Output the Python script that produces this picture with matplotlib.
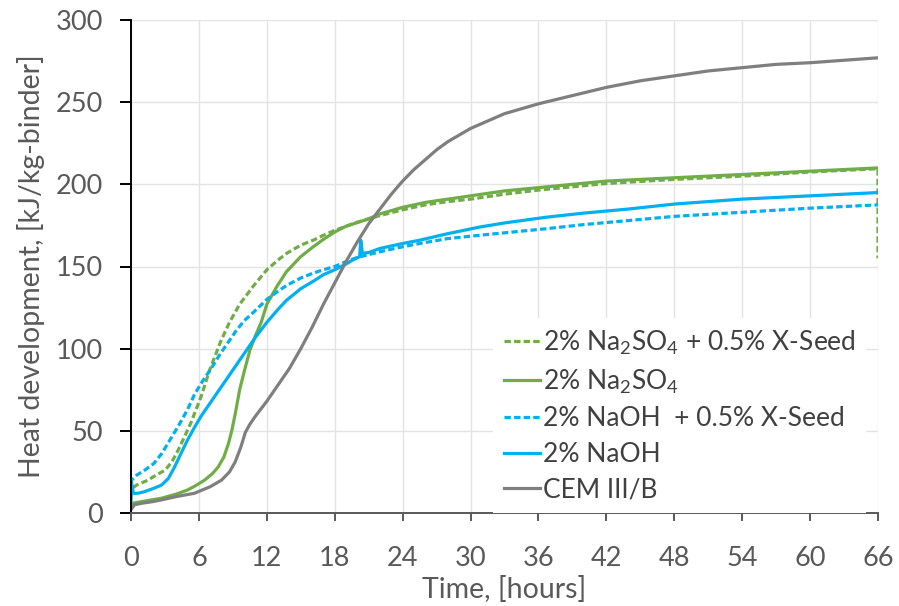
import matplotlib
matplotlib.use("Agg")
import matplotlib.pyplot as plt

plt.rcParams["font.family"] = ["Lato", "DejaVu Sans"]
plt.rcParams["mathtext.fontset"] = "custom"
plt.rcParams["mathtext.rm"] = "Lato"

# heat development curves, time in hours, heat in kJ/kg binder
t_cem = [0, 0.3, 1, 2, 2.7, 4, 5.6, 7, 8, 8.7, 9.2, 9.7, 10.1, 10.5, 11, 12, 13, 14, 15, 16,
         17, 18, 19, 20, 21, 22, 23, 24, 25, 26, 27, 28, 30, 33, 36, 39, 42, 45, 48, 51, 54,
         57, 60, 63, 66]
q_cem = [2, 5, 6, 7, 8, 10, 12, 16, 20, 25, 31, 40, 49, 54, 59, 68, 78, 88, 100, 113, 127, 140,
         153, 165, 176, 185, 194, 202, 209, 215, 221, 226, 234, 243, 249, 254, 259, 263, 266,
         269, 271, 273, 274, 275.5, 277]

t_na2so4 = [0, 0.2, 1, 2.7, 4, 5, 5.8, 6.5, 7.2, 7.7, 8.2, 8.6, 8.9, 9.2, 9.6, 10, 10.5, 11,
            11.5, 12, 12.9, 13.75, 15, 16.1, 17, 18, 19, 20.8, 22, 24, 26, 28, 30, 33, 36, 42,
            48, 54, 60, 66]
q_na2so4 = [3, 6, 7, 9, 11.5, 14, 17, 20, 24, 28, 34, 42, 50, 60, 75, 86, 99, 108, 116, 127,
            138, 147, 156, 162, 166.5, 171, 174.5, 178.5, 182, 186, 189, 191, 193, 196, 198,
            202, 204, 206, 208, 210]

t_na2so4_xs = [0, 0.1, 0.5, 1.5, 2.2, 3, 3.6, 4.15, 4.7, 5.3, 6.2, 6.95, 7.9, 8.7, 9.6, 10.8,
               12, 13, 13.75, 15, 16.1, 17, 18, 20, 22, 24, 26, 28, 30, 33, 36, 42, 48, 54, 60,
               66, 66]
q_na2so4_xs = [10, 15, 17, 20, 23, 26, 31, 38, 46, 55, 71, 87, 104, 116, 127, 138, 148, 154,
               158, 163, 166, 169, 172, 177, 181, 184.5, 187.5, 189.5, 191, 194, 196.5, 200.5,
               203, 205, 207.5, 209.5, 155]

t_naoh_xs = [0, 0.05, 0.5, 1.2, 2, 2.7, 3.4, 4.15, 5, 5.6, 6.3, 7, 7.9, 8.6, 9.3, 10, 10.8, 12,
             13, 13.75, 15, 16.1, 17, 18, 19, 20, 22, 24, 25.5, 28, 30.8, 33, 36.7, 40, 44, 48,
             54, 60, 66]
q_naoh_xs = [12, 20, 23, 26, 30, 36, 44, 52.5, 63, 72, 80, 87, 97, 104, 111, 117, 122, 130,
             135, 138.5, 143, 146, 148, 150, 153, 155.5, 159, 162, 164, 167, 169, 170.5, 173,
             175.5, 178, 180.5, 183, 185.5, 187.5]

t_naoh = [0, 0.05, 0.2, 0.6, 1.2, 2, 2.7, 3.3, 3.85, 4.4, 5, 5.6, 6.2, 7, 7.7, 8.5, 9.2, 10.2,
          11, 12, 13, 13.75, 15, 16.1, 17, 18, 19, 19.6, 20.2, 20.3, 20.45, 21, 22, 24, 25.5,
          28, 30.8, 33, 36.7, 40, 44, 48, 54, 60, 66]
q_naoh = [7, 18, 12, 12, 13, 15, 17, 21, 28, 36, 44.5, 52, 59, 67, 74, 82, 89, 99, 107, 116,
          124, 129.5, 136.5, 141, 145, 148, 151.5, 154, 156, 166, 158, 158.5, 161, 164, 166,
          170, 174, 176.5, 180, 182.5, 185, 188, 191, 193, 195]

labels = [r"2% Na$_2$SO$_4$ + 0.5% X-Seed", r"2% Na$_2$SO$_4$",
          "2% NaOH  + 0.5% X-Seed", "2% NaOH", "CEM III/B"]

green = "#70ad47"
blue = "#00b0f0"
grey = "#7f7f7f"
text_col = "#595959"

fig = plt.figure(figsize=(8.99, 6.06), dpi=100)
ax = fig.add_axes([131 / 899, 1 - 513 / 606, 747 / 899, 493 / 606])

lw = 2.3
ax.plot(t_na2so4_xs, q_na2so4_xs, color=green, lw=lw, dashes=(2.0, 1.0), label=labels[0])
ax.plot(t_na2so4, q_na2so4, color=green, lw=lw, label=labels[1])
ax.plot(t_naoh_xs, q_naoh_xs, color=blue, lw=lw, dashes=(2.0, 1.0), label=labels[2])
ax.plot(t_naoh, q_naoh, color=blue, lw=lw, label=labels[3])
ax.plot(t_cem, q_cem, color=grey, lw=lw, label=labels[4])

ax.set_xlim(0, 66)
ax.set_ylim(0, 300)
ax.set_xticks(range(0, 67, 6))
ax.set_yticks(range(0, 301, 50))
ax.grid(True, color="#e3e3e3", lw=1.0)
ax.set_axisbelow(True)

for side in ("top", "right"):
    ax.spines[side].set_visible(False)
ax.spines["left"].set_color("black")
ax.spines["left"].set_linewidth(1.4)
ax.spines["bottom"].set_color(text_col)
ax.spines["bottom"].set_linewidth(1.4)

ax.tick_params(axis="y", direction="out", length=8, width=1.4, color="black", pad=12,
               labelsize=19.5, labelcolor=text_col)
ax.tick_params(axis="x", direction="out", length=6, width=1.4, color=text_col, pad=18,
               labelsize=19.5, labelcolor=text_col)

ax.set_xlabel("Time, [hours]", fontsize=20.5, color=text_col, labelpad=3)
ax.set_ylabel("Heat development, [kJ/kg-binder]", fontsize=20.5, color=text_col, labelpad=8)

leg = ax.legend(loc="lower right", bbox_to_anchor=(0.984, 0.0), borderaxespad=0,
                frameon=True, fancybox=False, edgecolor="none", facecolor="white",
                framealpha=1, fontsize=19, handlelength=1.35, handletextpad=0.12,
                labelspacing=0.4, borderpad=0.4)
for txt in leg.get_texts():
    txt.set_color("#404040")

fig.savefig("out.png", dpi=100)
